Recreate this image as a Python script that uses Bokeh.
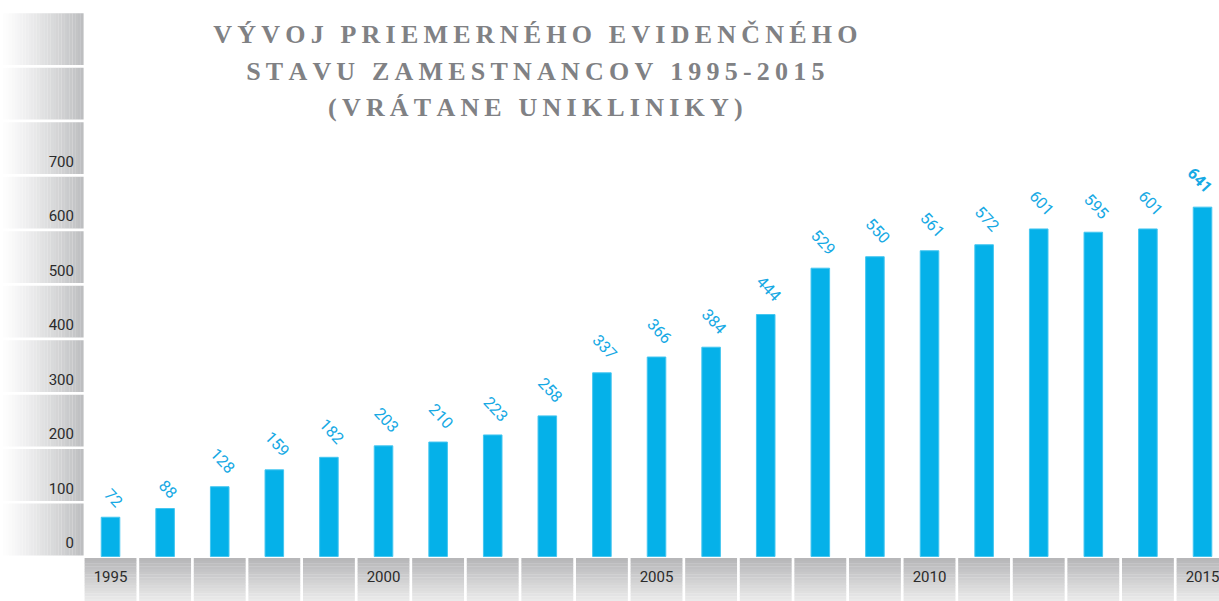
from bokeh.plotting import figure
from bokeh.models import Range1d, ColumnDataSource
from bokeh.core.properties import value
from bokeh.embed import file_html
from bokeh.resources import INLINE

# ---- data ----
years = list(range(1995, 2016))
staff = [72, 88, 128, 159, 182, 203, 210, 223, 258, 337, 366, 384, 444,
         529, 550, 561, 572, 601, 595, 601, 641]
y_ticks = [0, 100, 200, 300, 400, 500, 600, 700]
y_bands = [0, 100, 200, 300, 400, 500, 600, 700, 800, 900]
year_ticks = [1995, 2000, 2005, 2010, 2015]
title_lines = ["VÝVOJ PRIEMERNÉHO EVIDENČNÉHO",
               "STAVU ZAMESTNANCOV 1995-2015",
               "(VRÁTANE UNIKLINIKY)"]

W, H = 1219, 601
XMIN, XMAX = 1992.985, 2015.311
YMIN, YMAX = -82.6, 1020.2
p = figure(width=W, height=H, output_backend="svg", toolbar_location=None,
           x_range=Range1d(XMIN, XMAX), y_range=Range1d(YMIN, YMAX),
           x_axis_location=None, y_axis_location=None, min_border=0,
           background_fill_color="white", border_fill_color="white")
p.grid.visible = False
p.outline_line_color = None

LABEL_FONT = value("Roboto")


def mix(c1, c2, t):
    r = [int(round(a + (b - a) * t)) for a, b in zip(c1, c2)]
    return "#%02x%02x%02x" % tuple(r)


# ---- left value bands (horizontal gradient boxes) ----
x0, x1 = XMIN, 1994.505
n = 30
L, R, B, T, C = [], [], [], [], []
for k in range(n):
    xl = x0 + (x1 - x0) * k / n
    xr = x0 + (x1 - x0) * (k + 1) / n + 0.002
    t = ((k + 0.5) / n) ** 1.2
    col = mix((255, 255, 255), (188, 189, 191), t)
    for v in y_bands:
        L.append(xl); R.append(xr); B.append(v + 2); T.append(v + 97); C.append(col)
p.quad(left=L, right=R, bottom=B, top=T, fill_color=C, line_color=None)

p.text(x=[1994.33] * len(y_ticks), y=[v + 25 for v in y_ticks],
       text=[str(v) for v in y_ticks], text_align="right", text_baseline="middle",
       text_font=LABEL_FONT, text_font_size="15px", text_color="#2b2b2b")

# ---- year boxes (vertical gradient) ----
m = 16
L, R, B, T, C = [], [], [], [], []
for k in range(m):
    top = -3 - 80 * k / m
    bot = -3 - 80 * (k + 1) / m - 0.5
    col = mix((181, 181, 183), (236, 236, 236), (k + 0.5) / m)
    for yr in years:
        L.append(yr - 0.475); R.append(yr + 0.475); B.append(bot); T.append(top); C.append(col)
p.quad(left=L, right=R, bottom=B, top=T, fill_color=C, line_color=None)

p.text(x=year_ticks, y=[-37] * len(year_ticks), text=[str(y) for y in year_ticks],
       text_align="center", text_baseline="middle",
       text_font=LABEL_FONT, text_font_size="15px", text_color="#2b2b2b")

# ---- bars ----
p.vbar(x=years, top=staff, bottom=0, width=0.34, fill_color="#05b1e9",
       line_color="#45c6f0", line_width=1)

# ---- value labels ----
src = ColumnDataSource(dict(x=[y + 0.06 for y in years[:-1]],
                            y=[v + (36 if v < 100 else 48) for v in staff[:-1]],
                            t=[str(v) for v in staff[:-1]]))
p.text(x="x", y="y", text="t", source=src, angle=-0.82, text_align="center",
       text_baseline="middle", text_font=LABEL_FONT,
       text_font_size="16px", text_color="#16a9e4")
p.text(x=[years[-1] - 0.04], y=[staff[-1] + 50], text=[str(staff[-1])], angle=-0.82,
       text_align="center", text_baseline="middle",
       text_font=LABEL_FONT, text_font_size="16px",
       text_font_style="bold", text_color="#16a9e4")

# ---- title ----
def spaced(s):
    return "\u2009".join(s)

p.text(x=[2002.78] * 3, y=[957.8, 889.9, 823.9], text=[spaced(s) for s in title_lines],
       text_align="center", text_baseline="middle",
       text_font=value("Liberation Serif"), text_font_size="26px",
       text_font_style="bold", text_color="#808184")

open("out.html", "w").write(file_html(p, INLINE))
